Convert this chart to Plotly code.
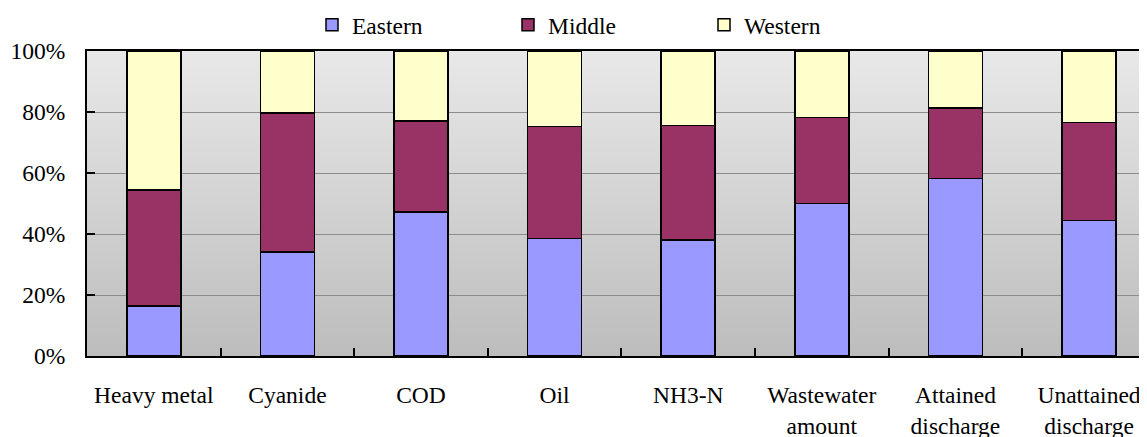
import plotly.graph_objects as go

categories = ["Heavy metal", "Cyanide", "COD", "Oil", "NH3-N",
              "Wastewater<br>amount", "Attained<br>discharge", "Unattained<br>discharge"]
eastern = [16.4, 34.1, 47.2, 38.6, 38.1, 50.0, 58.2, 44.4]
middle_top = [54.4, 79.6, 77.0, 75.2, 75.5, 78.2, 81.3, 76.6]
middle = [round(m - e, 1) for m, e in zip(middle_top, eastern)]
western = [round(100 - m, 1) for m in middle_top]
y_ticks = [0, 20, 40, 60, 80, 100]
y_tick_labels = ["0%", "20%", "40%", "60%", "80%", "100%"]

FONT = "Liberation Serif"
FS = 23.5

fig = go.Figure()
for name, vals, color in [("Eastern", eastern, "#9999FF"),
                          ("Middle", middle, "#993366"),
                          ("Western", western, "#FFFFCC")]:
    fig.add_trace(go.Bar(x=categories, y=vals, name=name, width=0.404,
                         marker=dict(color=color, line=dict(color="#000000", width=1.5))))

# vertical gradient background (below gridlines)
n = 80
top = (232, 232, 232)
bot = (189, 189, 189)
shapes = []
for i in range(n):
    t = i / (n - 1)
    c = tuple(round(bot[k] + (top[k] - bot[k]) * t) for k in range(3))
    shapes.append(dict(type="rect", xref="paper", yref="paper", layer="below",
                       x0=0, x1=1, y0=i / n, y1=min(1, (i + 1.6) / n),
                       fillcolor="rgb(%d,%d,%d)" % c, line=dict(width=0)))

# the page body adds an 8px offset; margins compensate for it
fig.update_layout(
    barmode="stack",
    width=1147, height=437,
    margin=dict(l=79, r=8, t=43, b=89, autoexpand=False),
    paper_bgcolor="white",
    plot_bgcolor="#d4d4d4",
    font=dict(family=FONT, size=FS, color="#000000"),
    shapes=shapes,
    showlegend=True,
    legend=dict(orientation="h", x=(306 - 87 + 6) / 1060, xanchor="left",
                y=1 + 26 / 305, yanchor="middle", traceorder="normal",
                entrywidth=151, entrywidthmode="pixels",
                font=dict(family=FONT, size=FS), bgcolor="rgba(0,0,0,0)"),
    bargap=0.6,
)
fig.update_xaxes(range=[-0.5, 7.434], tickson="boundaries", ticks="inside", ticklen=8,
                 tickwidth=1.5, tickcolor="#000000", showgrid=False,
                 showline=True, linecolor="#000000", linewidth=2, mirror=True,
                 ticklabelstandoff=17, tickfont=dict(family=FONT, size=FS))
fig.update_yaxes(range=[0, 100], tickvals=y_ticks, ticktext=y_tick_labels,
                 ticks="inside", ticklen=8, tickwidth=1.5, tickcolor="#000000",
                 showgrid=True, gridcolor="#8c8c8c", gridwidth=1,
                 showline=True, linecolor="#000000", linewidth=2, mirror=True,
                 zeroline=False, ticklabelstandoff=15, tickfont=dict(family=FONT, size=FS))

fig.write_html("out.html")
